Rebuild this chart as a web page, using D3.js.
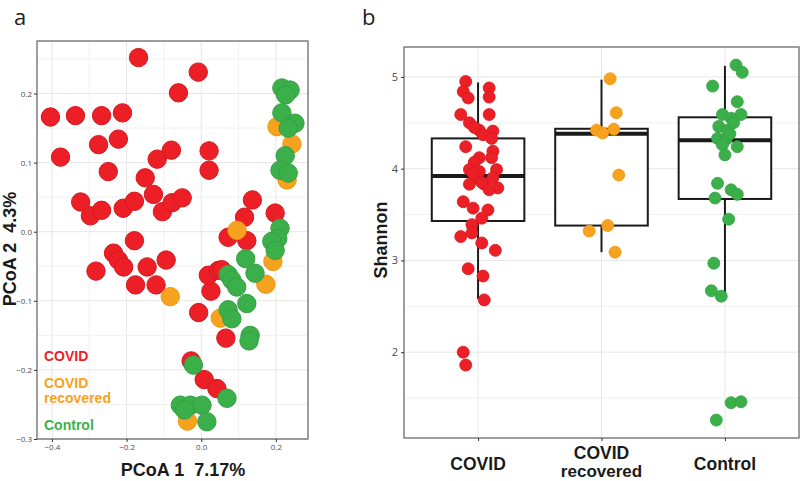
<!DOCTYPE html>
<html><head><meta charset="utf-8">
<script src="https://cdn.jsdelivr.net/npm/d3@7"></script>
<style>
body{margin:0;background:#fff;}
svg{display:block;font-family:"Liberation Sans",Arial,sans-serif;}
text{white-space:pre;}
</style></head>
<body><svg id="c" width="800" height="481"></svg>
<script>
// ---------- Panel a: PCoA ----------
const covidPCoA = [[-0.168,0.252],[-0.008,0.231],[-0.061,0.201],[-0.404,0.166],[-0.337,0.168],[-0.267,0.168],[-0.211,0.172],
 [-0.275,0.126],[-0.222,0.134],[-0.377,0.108],[-0.249,0.087],[-0.118,0.105],[-0.080,0.118],[0.021,0.117],[0.021,0.089],
 [-0.150,0.078],[-0.128,0.054],[-0.323,0.043],[-0.297,0.023],[-0.267,0.031],[-0.209,0.034],[-0.179,0.044],[-0.104,0.029],
 [-0.078,0.042],[-0.051,0.049],[0.137,0.046],[0.116,0.021],[0.198,0.027],[0.072,-0.008],[0.122,-0.013],[-0.179,-0.013],
 [-0.235,-0.031],[-0.222,-0.041],[-0.208,-0.051],[-0.282,-0.057],[-0.145,-0.051],[-0.094,-0.041],[-0.176,-0.077],
 [-0.121,-0.077],[-0.007,-0.117],[0.026,-0.086],[0.019,-0.063],[0.046,-0.056],[0.055,-0.055],[0.066,-0.154],
 [-0.027,-0.187],[0.008,-0.214],[0.042,-0.227]];
const recoveredPCoA = [[0.096,0.002],[0.203,0.152],[0.243,0.127],[0.230,0.075],[-0.083,-0.094],[0.192,-0.043],
 [0.173,-0.076],[0.051,-0.125],[-0.037,-0.274]];
const controlPCoA = [[0.216,0.208],[0.238,0.205],[0.226,0.198],[0.216,0.172],[0.251,0.157],[0.233,0.150],[0.225,0.110],
 [0.211,0.089],[0.233,0.085],[0.211,0.005],[0.205,-0.010],[0.189,-0.014],[0.198,-0.027],[0.119,-0.039],[0.144,-0.060],
 [0.072,-0.062],[0.082,-0.070],[0.095,-0.080],[0.122,-0.104],[0.072,-0.113],[0.082,-0.126],[0.131,-0.150],[0.128,-0.158],
 [-0.021,-0.193],[0.069,-0.241],[-0.056,-0.251],[-0.029,-0.251],[0.002,-0.251],[0.015,-0.275],[-0.045,-0.258]];
const pcoaXTicks = [-0.4,-0.2,0.0,0.2];
const pcoaYTicks = [-0.3,-0.2,-0.1,0.0,0.1,0.2];

// ---------- Panel b: Shannon ----------
const groups = ["COVID","COVID recovered","Control"];
const shannonCovid = [4.95,4.84,4.77,4.88,4.78,4.59,4.59,4.50,4.42,4.41,4.37,4.33,4.24,4.19,4.12,4.12,4.07,3.99,3.99,3.97,
 3.90,3.90,3.83,3.83,3.79,3.77,3.64,3.57,3.55,3.46,3.39,3.26,3.30,3.19,3.11,2.91,2.83,2.57,2.00,1.86,4.45,3.95,3.85];
const jitterCovid = [-0.10,-0.12,-0.08,0.09,0.09,-0.14,0.09,-0.07,0.01,0.12,0.04,0.11,-0.10,0.12,0.11,0.01,-0.03,-0.07,0.15,0.01,
 -0.01,0.12,-0.07,0.05,0.16,0.09,-0.12,-0.04,0.08,0.03,-0.05,-0.14,-0.05,0.03,0.14,-0.08,0.04,0.05,-0.12,-0.10,-0.03,-0.04,0.03];
const shannonRecovered = [4.98,4.61,4.42,4.39,4.43,3.93,3.38,3.32,3.09];
const jitterRecovered = [0.07,0.12,-0.04,0.01,0.10,0.14,0.05,-0.10,0.11];
const shannonControl = [5.13,5.05,4.90,4.73,4.59,4.59,4.55,4.46,4.42,4.33,4.32,4.26,4.24,4.15,3.84,3.77,3.72,3.68,3.45,
 2.97,2.67,2.61,1.45,1.46,1.26,4.50,4.38];
const jitterControl = [0.09,0.14,-0.10,0.10,-0.02,0.13,0.05,-0.05,0.02,-0.06,0.01,-0.02,0.10,0.00,-0.06,0.05,0.10,-0.08,0.03,
 -0.09,-0.11,-0.03,0.05,0.13,-0.07,0.07,0.04];
const boxLow = [2.58,3.09,2.64];
const boxQ1 = [3.43,3.38,3.67];
const boxMedian = [3.92,4.38,4.31];
const boxQ3 = [4.33,4.435,4.56];
const boxHigh = [4.94,4.97,5.12];
const shannonTicks = [2,3,4,5];

const colors = {covid:"#EC1F26", recovered:"#F7A21E", control:"#3BB04A"};
const strokes = {covid:"#D4181F", recovered:"#EE9810", control:"#33A043"};

const svg = d3.select("#c");
const tickCol = "#4d4d4d";

// ===== Panel a =====
const ax = {l:37, r:308, t:41, b:439};
const xA = d3.scaleLinear().domain([-0.44,0.286]).range([ax.l,ax.r]);
const yA = d3.scaleLinear().domain([-0.3,0.276]).range([ax.b,ax.t]);
const ga = svg.append("g");
const xMinorA = d3.range(-0.4,0.29,0.1).map(v=>+v.toFixed(2));
const yMinorA = d3.range(-0.3,0.276,0.05).map(v=>+v.toFixed(2));
ga.selectAll(".gx").data(xMinorA).join("line").attr("x1",d=>xA(d)).attr("x2",d=>xA(d))
  .attr("y1",ax.t).attr("y2",ax.b).attr("stroke",d=>pcoaXTicks.some(t=>Math.abs(t-d)<1e-6)?"#e6e6e6":"#f1f1f1").attr("stroke-width",1);
ga.selectAll(".gy").data(yMinorA).join("line").attr("y1",d=>yA(d)).attr("y2",d=>yA(d))
  .attr("x1",ax.l).attr("x2",ax.r).attr("stroke",d=>pcoaYTicks.some(t=>Math.abs(t-d)<1e-6)?"#e6e6e6":"#f1f1f1").attr("stroke-width",1);
function drawPts(data,key){
  ga.append("g").selectAll("circle").data(data).join("circle")
    .attr("cx",d=>xA(d[0])).attr("cy",d=>yA(d[1])).attr("r",9.2)
    .attr("fill",colors[key]).attr("stroke",strokes[key]).attr("stroke-width",1);
}
drawPts(covidPCoA,"covid");
drawPts(recoveredPCoA,"recovered");
drawPts(controlPCoA,"control");
ga.append("rect").attr("x",ax.l).attr("y",ax.t).attr("width",ax.r-ax.l).attr("height",ax.b-ax.t)
  .attr("fill","none").attr("stroke","#6b6b6b").attr("stroke-width",1.3);
const axAx = d3.axisBottom(xA).tickValues(pcoaXTicks).tickSize(3).tickPadding(2).tickFormat(d=>d.toFixed(1).replace("-","\u2212"));
const gxa = ga.append("g").attr("transform",`translate(0,${ax.b})`).call(axAx);
const axAy = d3.axisLeft(yA).tickValues(pcoaYTicks).tickSize(3).tickPadding(2).tickFormat(d=>d.toFixed(1).replace("-","\u2212"));
const gya = ga.append("g").attr("transform",`translate(${ax.l},0)`).call(axAy);
[gxa,gya].forEach(g=>{g.select(".domain").remove();
  g.selectAll("line").attr("stroke","#333");
  g.selectAll("text").attr("fill",tickCol).attr("font-size",8).attr("font-family","'Open Sans',sans-serif");});
ga.append("text").attr("x",183).attr("y",476).attr("text-anchor","middle").attr("font-weight","bold")
  .attr("font-size",18).attr("fill","#1a1a1a").text("PCoA 1  7.17%");
ga.append("text").attr("transform","translate(16,249) rotate(-90)").attr("text-anchor","middle").attr("font-weight","bold")
  .attr("font-size",18).attr("fill","#1a1a1a").text("PCoA 2  4.3%");
const legA = [["COVID",361,"covid"],["COVID",387.5,"recovered"],["recovered",403,"recovered"],["Control",429.5,"control"]];
ga.selectAll(".leg").data(legA).join("text").attr("x",44).attr("y",d=>d[1]).attr("font-weight","bold")
  .attr("font-size",14).attr("fill",d=>colors[d[2]]).text(d=>d[0]);
svg.append("text").attr("x",14).attr("y",25).attr("font-size",22).attr("fill","#222")
  .attr("font-family","'Open Sans',sans-serif").text("a");

// ===== Panel b =====
const bx = {l:404, r:799, t:47, b:438};
const xB = d3.scalePoint().domain(groups).range([bx.l,bx.r]).padding(0.6);
const step = xB.step();
const yB = d3.scaleLinear().domain([1.065,5.326]).range([bx.b,bx.t]);
const gb = svg.append("g");
const yGridB = d3.range(1.5,5.3,0.5);
gb.selectAll(".gy").data(yGridB).join("line").attr("x1",bx.l).attr("x2",bx.r).attr("y1",d=>yB(d)).attr("y2",d=>yB(d))
  .attr("stroke",d=>Number.isInteger(d)?"#e6e6e6":"#f1f1f1").attr("stroke-width",1);
gb.selectAll(".gx").data(groups).join("line").attr("x1",d=>xB(d)).attr("x2",d=>xB(d)).attr("y1",bx.t).attr("y2",bx.b)
  .attr("stroke","#e6e6e6").attr("stroke-width",1);
const bw = step*0.75;
groups.forEach((g,i)=>{
  const cx = xB(g);
  gb.append("line").attr("x1",cx).attr("x2",cx).attr("y1",yB(boxHigh[i])).attr("y2",yB(boxQ3[i])).attr("stroke","#1a1a1a").attr("stroke-width",2);
  gb.append("line").attr("x1",cx).attr("x2",cx).attr("y1",yB(boxQ1[i])).attr("y2",yB(boxLow[i])).attr("stroke","#1a1a1a").attr("stroke-width",2);
  gb.append("rect").attr("x",cx-bw/2).attr("width",bw).attr("y",yB(boxQ3[i])).attr("height",yB(boxQ1[i])-yB(boxQ3[i]))
    .attr("fill","#fff").attr("stroke","#1a1a1a").attr("stroke-width",2);
  gb.append("line").attr("x1",cx-bw/2).attr("x2",cx+bw/2).attr("y1",yB(boxMedian[i])).attr("y2",yB(boxMedian[i]))
    .attr("stroke","#1a1a1a").attr("stroke-width",4);
});
const sets = [[shannonCovid,jitterCovid,"covid"],[shannonRecovered,jitterRecovered,"recovered"],[shannonControl,jitterControl,"control"]];
sets.forEach((s,i)=>{
  const cx = xB(groups[i]);
  gb.append("g").selectAll("circle").data(s[0]).join("circle")
    .attr("cx",(d,j)=>cx+s[1][j]*step).attr("cy",d=>yB(d)).attr("r",6)
    .attr("fill",colors[s[2]]).attr("stroke",strokes[s[2]]).attr("stroke-width",0.8);
});
gb.append("rect").attr("x",bx.l).attr("y",bx.t).attr("width",bx.r-bx.l).attr("height",bx.b-bx.t)
  .attr("fill","none").attr("stroke","#6b6b6b").attr("stroke-width",1.3);
const gyb = gb.append("g").attr("transform",`translate(${bx.l},0)`)
  .call(d3.axisLeft(yB).tickValues(shannonTicks).tickSize(3).tickPadding(3).tickFormat(d3.format("d")));
const gxb = gb.append("g").attr("transform",`translate(0,${bx.b})`).call(d3.axisBottom(xB).tickSize(3).tickFormat(""));
[gyb,gxb].forEach(g=>{g.select(".domain").remove(); g.selectAll("line").attr("stroke","#333");});
gyb.selectAll("text").attr("fill",tickCol).attr("font-size",11).attr("font-family","'Open Sans',sans-serif");
groups.forEach(g=>{
  const parts = g.split(" ");
  if(parts.length===1){
    gb.append("text").attr("x",xB(g)).attr("y",470).attr("text-anchor","middle").attr("font-weight","bold")
      .attr("font-size",17.5).attr("fill","#1a1a1a").text(g);
  } else {
    gb.append("text").attr("x",xB(g)).attr("y",459).attr("text-anchor","middle").attr("font-weight","bold")
      .attr("font-size",17.5).attr("fill","#1a1a1a").text(parts[0]);
    gb.append("text").attr("x",xB(g)).attr("y",477).attr("text-anchor","middle").attr("font-weight","bold")
      .attr("font-size",17).attr("fill","#1a1a1a").text(parts.slice(1).join(" "));
  }
});
gb.append("text").attr("transform","translate(387,240) rotate(-90)").attr("text-anchor","middle").attr("font-weight","bold")
  .attr("font-size",18).attr("fill","#1a1a1a").text("Shannon");
svg.append("text").attr("x",362).attr("y",25).attr("font-size",22).attr("fill","#222")
  .attr("font-family","'Open Sans',sans-serif").text("b");
</script></body></html>
